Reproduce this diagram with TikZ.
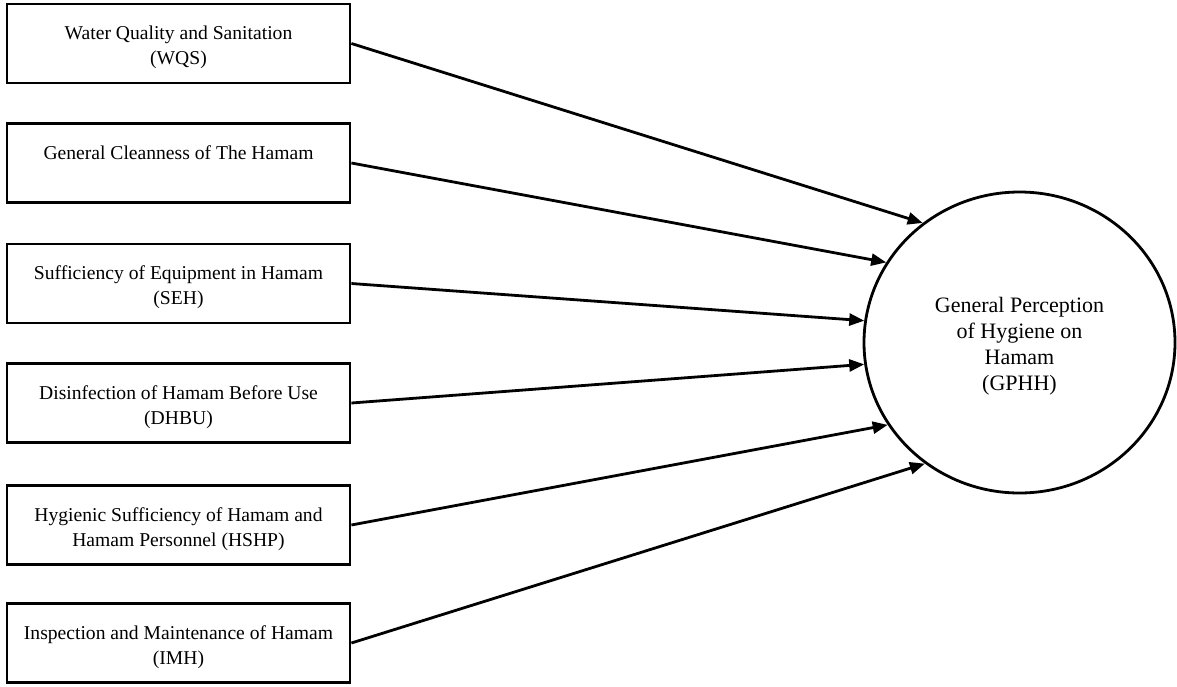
\documentclass[tikz,border=0pt]{standalone}
\usepackage{fontspec}
\setmainfont{Liberation Serif}
\usetikzlibrary{arrows.meta,shapes.geometric}
\newcommand\myupb{\rule{0pt}{10.7pt}}
\newcommand\myupc{\rule{0pt}{11.5pt}}
\begin{document}
\begin{tikzpicture}[x=0.5pt,y=-0.5pt,
  box/.style={draw,line width=1.4pt,minimum width=171.5pt,minimum height=39.5pt,inner sep=0pt,align=center,font=\fontsize{9.8}{12.5}\selectfont},
  latent/.style={draw,ellipse,line width=1.4pt,minimum width=155.5pt,minimum height=150.5pt,inner sep=0pt,align=center,font=\fontsize{11}{13}\selectfont},
  conn/.style={line width=1.4pt,-{Triangle[length=7.5pt,width=6pt]}}]
\useasboundingbox (0,0) rectangle (1177,686);
\node[box] (wqs) at (178.5,43.5) {\myupb Water Quality and Sanitation\\(WQS)};
\node[box] (gch) at (178.5,163) {\myupb General Cleanness of The Hamam\\\rule[-2.1pt]{0pt}{0pt}};
\node[box] (seh) at (178.5,283.5) {\myupb Sufficiency of Equipment in Hamam\\(SEH)};
\node[box] (dhbu) at (178.5,403) {\myupb Disinfection of Hamam Before Use\\(DHBU)};
\node[box] (hshp) at (178.5,525) {\myupb Hygienic Sufficiency of Hamam and\\Hamam Personnel (HSHP)};
\node[box] (imh) at (178.5,643) {\myupb Inspection and Maintenance of Hamam\\(IMH)};
\node[latent] (gphh) at (1019.5,342.5) {\myupc General Perception\\of Hygiene on\\Hamam\\(GPHH)};
\draw[conn] (wqs.east) -- (gphh.129);
\draw[conn] (gch.east) -- (gphh.149);
\draw[conn] (seh.east) -- (gphh.172.5);
\draw[conn] (dhbu.east) -- (gphh.188);
\draw[conn] (hshp.east) -- (gphh.212);
\draw[conn] (imh.east) -- (gphh.232);
\end{tikzpicture}
\end{document}
